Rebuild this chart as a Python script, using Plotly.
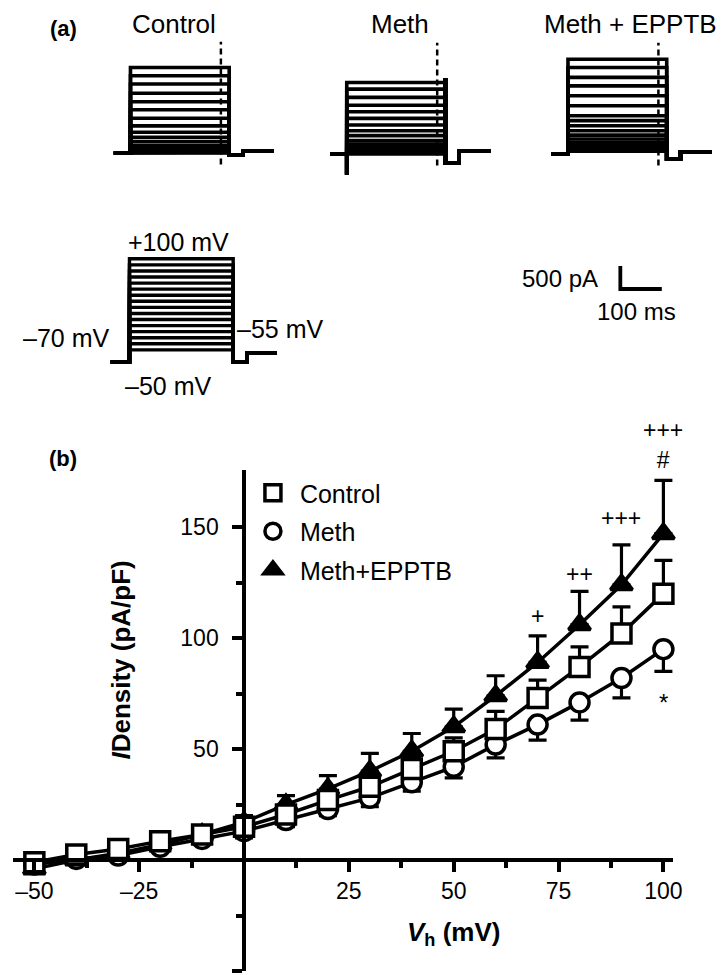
import plotly.graph_objects as go

W, H = 728, 975
FONT = "Liberation Sans, Arial, sans-serif"

# ---------------- data: panel (b) I-V relation ----------------
vh_mV = [-50, -40, -30, -20, -10, 0, 10, 20, 30, 40, 50, 60, 70, 80, 90, 100]
control_mean = [-1, 2.5, 5, 8.5, 11.5, 15, 20.5, 27, 33, 41, 49, 59, 73, 87, 102, 120]
control_sem = [2, 2, 2, 2, 2, 3, 3, 4, 4, 5, 6, 8, 8, 9, 12, 15]
meth_mean = [-2, 0.5, 2, 6, 9.5, 13, 18, 23, 28, 35, 42, 52, 61, 71, 82, 95]
meth_sem = [2, 2, 2, 2, 2, 3, 3, 3, 4, 4, 5, 6, 7, 8, 9, 10]
epptb_mean = [-4, 0, 3, 7, 11.5, 17, 25, 32, 40, 49, 60, 74, 89, 106, 124, 147]
epptb_sem = [2, 2, 2, 2, 3, 3, 4, 6, 8, 8, 8, 9, 12, 15, 18, 24]

x_tick_vals = [-50, -25, 25, 50, 75, 100]
x_tick_text = ["\u201350", "\u201325", "25", "50", "75", "100"]
x_minor_vals = [-37.5, -12.5, 12.5, 37.5, 62.5, 87.5]
y_tick_vals = [-50, 50, 100, 150]
y_tick_text = ["\u201350", "50", "100", "150"]
y_minor_vals = [-25, 25, 75, 125]

sig_x = [70, 80, 90, 100, 100]
sig_y = [110, 129, 154, 187, 71]
sig_text = ["+", "++", "+++", "+++<br>#", "*"]

# ---------------- data: panel (a) example currents ----------------
step_mV = [-50, -40, -30, -20, -10, 0, 10, 20, 30, 40, 50, 60, 70, 80, 90, 100]
control_levels_pA = [1860, 1680, 1500, 1300, 1115, 940, 755, 590, 450, 340, 245, 160, 90, 45, 15, 0]
meth_levels_pA = [1555, 1410, 1230, 1060, 920, 775, 630, 505, 400, 290, 215, 145, 95, 50, 20, 0]
epptb_levels_pA = [2060, 1880, 1665, 1480, 1265, 1050, 830, 725, 615, 505, 410, 325, 255, 180, 125, 60]
# transients: onset spike, end spike, post-pulse dip, post baseline (pA)
control_transients = [0, 0, -45, 45]
meth_transients = [-450, 1650, -200, 65]
epptb_transients = [0, 0, -110, 45]
# timing (ms)
pre_ms, pulse_ms, dip_ms, post_ms = 40, 238, 33, 75
cursor_ms = 218
cursor_pA = [-250, 2420]
# voltage protocol (mV, ms)
hold_mV, tail_mV = -70, -55
prot_pre_ms, prot_pulse_ms, prot_gap_ms, prot_tail_ms = 45, 250, 33, 72
scale_pA, scale_ms = 500, 100

# ---------------- helpers ----------------
def dom_x(p0, p1):
    return [p0 / W, p1 / W]

def dom_y(top, bottom):
    return [1 - bottom / H, 1 - top / H]

MS_PX = 0.42        # px per ms
PA_PX = 23 / 500.0  # px per pA
MV_PX = 0.607       # px per mV (protocol)

fig = go.Figure()

# ---------------- panel (b) ----------------
def add_series(mean, sem, symbol, fill, up=True):
    fig.add_trace(go.Scatter(
        x=vh_mV, y=mean, mode="lines+markers", showlegend=False,
        line=dict(color="black", width=3.5),
        marker=dict(symbol=symbol, size=19, color=fill, line=dict(color="black", width=3.5)),
        error_y=dict(type="data", symmetric=False,
                     array=sem if up else [0] * len(sem),
                     arrayminus=[0] * len(sem) if up else sem,
                     thickness=3.2, width=9, color="black"),
        cliponaxis=False, xaxis="x", yaxis="y"))

add_series(meth_mean, meth_sem, "circle", "white", up=False)
add_series(epptb_mean, epptb_sem, "triangle-up", "black", up=True)
add_series(control_mean, control_sem, "square", "white", up=True)

for name, sym, fill, grp in [("Control", "square", "white", "a"),
                             ("Meth", "circle", "white", "b"),
                             ("Meth+EPPTB", "triangle-up", "black", "c")]:
    fig.add_trace(go.Scatter(
        x=[None], y=[None], mode="markers", name="\u00a0" + name, legendgroup=grp,
        marker=dict(symbol=sym, size=16, color=fill, line=dict(color="black", width=3.5)),
        xaxis="x", yaxis="y"))

# ---------------- panel (a) ----------------
def current_axis(idx, onset_px, base_px, left_px, right_px, top_px, bottom_px):
    xr = [(left_px - onset_px) / MS_PX, (right_px - onset_px) / MS_PX]
    yr = [-(bottom_px - base_px) / PA_PX, (base_px - top_px) / PA_PX]
    fig.update_layout(**{
        f"xaxis{idx}": dict(domain=dom_x(left_px, right_px), range=xr, visible=False,
                            anchor=f"y{idx}", fixedrange=True),
        f"yaxis{idx}": dict(domain=dom_y(top_px, bottom_px), range=yr, visible=False,
                            anchor=f"x{idx}", fixedrange=True),
    })

def add_sweeps(idx, levels, trans):
    onset, endspike, dip, post = trans
    t_end = pulse_ms + dip_ms + post_ms
    for L in levels:
        top_end = max(L, endspike) if endspike else L
        fig.add_trace(go.Scatter(
            x=[-pre_ms, 0, 0, 0, pulse_ms, pulse_ms, pulse_ms, pulse_ms + dip_ms, pulse_ms + dip_ms, t_end],
            y=[0, 0, min(onset, 0), L, L, top_end, dip, dip, post, post],
            mode="lines", line=dict(color="black", width=3.6), showlegend=False,
            hoverinfo="skip", xaxis=f"x{idx}", yaxis=f"y{idx}"))
    fig.add_trace(go.Scatter(
        x=[cursor_ms, cursor_ms], y=cursor_pA, mode="lines",
        line=dict(color="black", width=2.5, dash="6px,4px"), showlegend=False,
        hoverinfo="skip", xaxis=f"x{idx}", yaxis=f"y{idx}"))

current_axis(2, 124, 145, 100, 275, 26, 183)
current_axis(3, 343, 146, 319, 494, 26, 183)
current_axis(4, 567, 146, 543, 718, 26, 183)
add_sweeps(2, control_levels_pA, control_transients)
add_sweeps(3, meth_levels_pA, meth_transients)
add_sweeps(4, epptb_levels_pA, epptb_transients)

# voltage protocol axis
p_onset, p_hold_px = 123, 354
p_l, p_r, p_t, p_b = 95, 300, 238, 370
fig.update_layout(
    xaxis5=dict(domain=dom_x(p_l, p_r), range=[(p_l - p_onset) / MS_PX, (p_r - p_onset) / MS_PX],
                visible=False, anchor="y5", fixedrange=True),
    yaxis5=dict(domain=dom_y(p_t, p_b),
                range=[hold_mV - (p_b - p_hold_px) / MV_PX, hold_mV + (p_hold_px - p_t) / MV_PX],
                visible=False, anchor="x5", fixedrange=True))
for v in step_mV:
    t1 = prot_pulse_ms
    t2 = t1 + prot_gap_ms
    t3 = t2 + prot_tail_ms
    fig.add_trace(go.Scatter(
        x=[-prot_pre_ms, 0, 0, t1, t1, t2, t2, t3],
        y=[hold_mV, hold_mV, v, v, hold_mV, hold_mV, tail_mV, tail_mV],
        mode="lines", line=dict(color="black", width=3.4), showlegend=False,
        hoverinfo="skip", xaxis="x5", yaxis="y5"))

# scale bar axis
s_x0, s_base = 620, 281
s_l, s_r, s_t, s_b = 600, 700, 248, 293
fig.update_layout(
    xaxis6=dict(domain=dom_x(s_l, s_r), range=[(s_l - s_x0) / MS_PX, (s_r - s_x0) / MS_PX],
                visible=False, anchor="y6", fixedrange=True),
    yaxis6=dict(domain=dom_y(s_t, s_b), range=[-(s_b - s_base) / PA_PX, (s_base - s_t) / PA_PX],
                visible=False, anchor="x6", fixedrange=True))
fig.add_trace(go.Scatter(
    x=[0, 0, scale_ms], y=[scale_pA, 0, 0], mode="lines",
    line=dict(color="black", width=3.8), showlegend=False, hoverinfo="skip",
    xaxis="x6", yaxis="y6"))

# ---------------- layout ----------------
x0_px, x1_px = 4.6, 673.8
x_range = [-55.2, 102.4]
y_axis_px = 239.0
y_top_px, y_bot_px, y_zero_px = 462, 963, 852
y_range = [-50, 175.7]
xdom = dom_x(x0_px, x1_px)
ydom = dom_y(y_top_px, y_bot_px)

fig.update_layout(
    width=W, height=H, autosize=False,
    margin=dict(l=0, r=0, t=0, b=0),
    paper_bgcolor="white", plot_bgcolor="white",
    font=dict(family=FONT, color="black", size=23),
    xaxis=dict(domain=xdom, range=x_range,
               anchor="free", position=1 - y_zero_px / H,
               showline=True, linewidth=3.5, linecolor="black",
               ticks="outside", ticklen=10, tickwidth=3.5, tickcolor="black",
               tickmode="array", tickvals=x_tick_vals, ticktext=x_tick_text,
               tickfont=dict(size=23, family=FONT), showgrid=False, zeroline=False,
               minor=dict(tickmode="array", tickvals=x_minor_vals, ticks="outside",
                          ticklen=6, tickwidth=3.5, tickcolor="black", showgrid=False),
               fixedrange=True),
    yaxis=dict(domain=ydom, range=y_range,
               anchor="free", position=y_axis_px / W,
               showline=True, linewidth=3.5, linecolor="black",
               ticks="outside", ticklen=10, tickwidth=3.5, tickcolor="black",
               tickmode="array", tickvals=y_tick_vals, ticktext=y_tick_text,
               ticklabelstandoff=9,
               tickfont=dict(size=23, family=FONT), showgrid=False, zeroline=False,
               minor=dict(tickmode="array", tickvals=y_minor_vals, ticks="outside",
                          ticklen=6, tickwidth=3.5, tickcolor="black", showgrid=False),
               fixedrange=True),
    legend=dict(x=248 / W, y=1 - 462 / H, xanchor="left", yanchor="top",
                font=dict(size=25, family=FONT), bgcolor="rgba(0,0,0,0)",
                itemsizing="trace", tracegroupgap=3, itemwidth=30),
    showlegend=True,
)

annotations = []

def paper_text(text, x_px, y_px, size, bold=False, xanchor="center"):
    annotations.append(dict(
        text=f"<b>{text}</b>" if bold else text, x=x_px / W, y=1 - y_px / H,
        xref="paper", yref="paper", showarrow=False, xanchor=xanchor, yanchor="middle",
        font=dict(size=size, family=FONT, color="black")))

paper_text("(a)", 56, 21, 22, bold=True)
paper_text("(b)", 56, 450, 22, bold=True)
paper_text("Control", 168, 16, 26)
paper_text("Meth", 397, 16, 26)
paper_text("Meth + EPPTB", 630, 16, 26)
paper_text("+100 mV", 173, 234, 25)
paper_text("\u201370 mV", 59, 330, 25)
paper_text("\u201355 mV", 275, 321, 25)
paper_text("\u201350 mV", 162, 378, 25)
paper_text("500 pA", 559, 270, 24)
paper_text("100 ms", 636, 304, 24)

# axis titles
annotations.append(dict(
    text="<b><i>V</i><sub>h</sub> (mV)</b>", x=451 / W, y=1 - 925 / H, xref="paper", yref="paper",
    showarrow=False, xanchor="center", yanchor="middle", font=dict(size=26, family=FONT)))
annotations.append(dict(
    text="<b><i>I</i>Density (pA/pF)</b>", x=114 / W, y=1 - 652 / H, xref="paper", yref="paper",
    showarrow=False, xanchor="center", yanchor="middle", textangle=-90,
    font=dict(size=26, family=FONT)))

# significance marks, placed in paper space through the main axes' scales
def to_paper_x(v):
    return xdom[0] + (v - x_range[0]) / (x_range[1] - x_range[0]) * (xdom[1] - xdom[0])

def to_paper_y(v):
    return ydom[0] + (v - y_range[0]) / (y_range[1] - y_range[0]) * (ydom[1] - ydom[0])

for sx, sy, st in zip(sig_x, sig_y, sig_text):
    annotations.append(dict(text=st, x=to_paper_x(sx), y=to_paper_y(sy),
                            xref="paper", yref="paper", showarrow=False,
                            xanchor="center", yanchor="middle",
                            font=dict(size=24 if st == "*" else 23, family=FONT, color="black")))

fig.update_layout(annotations=annotations)

fig.write_html("out.html")
